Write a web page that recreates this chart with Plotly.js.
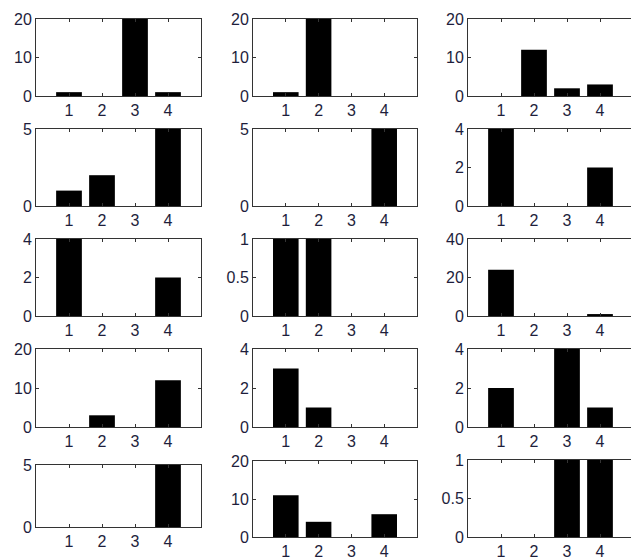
<!DOCTYPE html>
<html>
<head>
<meta charset="utf-8">
<script src="https://cdn.plot.ly/plotly-3.0.1.min.js"></script>
<style>html,body{margin:0;padding:0;background:#fff;}#chart{width:631px;height:557px;}</style>
</head>
<body>
<div id="chart"></div>
<script>
// Categories (x positions) shared by all panels
const categories = [1, 2, 3, 4];
const xTickLabels = ['1', '2', '3', '4'];

// Bar values, panel by panel (row-major, 5 rows x 3 columns)
const r1c1 = [1, 0, 20, 1];
const r1c2 = [1, 20, 0, 0];
const r1c3 = [0, 12, 2, 3];
const r2c1 = [1, 2, 0, 5];
const r2c2 = [0, 0, 0, 5];
const r2c3 = [4, 0, 0, 2];
const r3c1 = [4, 0, 0, 2];
const r3c2 = [1, 1, 0, 0];
const r3c3 = [24, 0, 0, 1];
const r4c1 = [0, 3, 0, 12];
const r4c2 = [3, 1, 0, 0];
const r4c3 = [2, 0, 4, 1];
const r5c1 = [0, 0, 0, 5];
const r5c2 = [11, 4, 0, 6];
const r5c3 = [0, 0, 1, 1];

// Y tick values per panel
const yt20 = [0, 10, 20];
const yt5 = [0, 5];
const yt4 = [0, 2, 4];
const yt1 = [0, 0.5, 1];
const yt40 = [0, 20, 40];

const panels = [
  {v: r1c1, yt: yt20}, {v: r1c2, yt: yt20}, {v: r1c3, yt: yt20},
  {v: r2c1, yt: yt5},  {v: r2c2, yt: yt5},  {v: r2c3, yt: yt4},
  {v: r3c1, yt: yt4},  {v: r3c2, yt: yt1},  {v: r3c3, yt: yt40},
  {v: r4c1, yt: yt20}, {v: r4c2, yt: yt4},  {v: r4c3, yt: yt4},
  {v: r5c1, yt: yt5},  {v: r5c2, yt: yt20}, {v: r5c3, yt: yt1}
];

const W = 631, H = 557;
// pixel boxes [left, right] per column, [top, bottom] per row
const colPx = [[36, 201], [253, 417], [468, 633]];
const rowPx = [[19, 96], [129, 206], [239, 316], [349, 427], [460, 537]];
const r5Px = [[465, 527], [461, 537], [460, 537]];

const txtColor = '#1e1e3c';
const lineColor = '#333333';
const data = [];
const layout = {
  width: W, height: H,
  margin: {l: 0, r: 0, t: 0, b: 0},
  paper_bgcolor: '#fff', plot_bgcolor: '#fff',
  showlegend: false,
  font: {family: 'Liberation Sans, Arial, sans-serif', size: 16, color: txtColor}
};

panels.forEach((p, i) => {
  const r = Math.floor(i / 3), c = i % 3;
  const n = i + 1;
  const xa = n === 1 ? 'x' : 'x' + n;
  const ya = n === 1 ? 'y' : 'y' + n;
  data.push({
    type: 'bar', x: categories, y: p.v,
    xaxis: xa, yaxis: ya, width: 0.78,
    marker: {color: '#000', line: {width: 0}},
    hoverinfo: 'skip', cliponaxis: true
  });
  const [l, rr] = colPx[c];
  const [t, b] = r === 4 ? r5Px[c] : rowPx[r];
  const pxPerUnit = (rr - l) / 5;
  const rightVis = Math.min(rr, W);
  const xmax = (rightVis - l) / pxPerUnit;
  const clipped = rr > W;
  const ymax = p.yt[p.yt.length - 1];
  layout['xaxis' + (n === 1 ? '' : n)] = {
    domain: [l / W, rightVis / W],
    anchor: ya,
    range: [0, xmax],
    tickvals: categories, ticktext: xTickLabels,
    ticks: 'inside', ticklen: 3, tickcolor: lineColor,
    showline: true, linecolor: lineColor, linewidth: 1, mirror: 'ticks',
    showgrid: false, zeroline: false, fixedrange: true,
    tickfont: {size: 16, color: txtColor}
  };
  layout['yaxis' + (n === 1 ? '' : n)] = {
    domain: [1 - b / H, 1 - t / H],
    anchor: xa,
    range: [0, ymax],
    tickvals: p.yt,
    ticks: 'inside', ticklen: 3, tickcolor: lineColor,
    showline: true, linecolor: lineColor, linewidth: 1, mirror: clipped ? false : 'ticks',
    showgrid: false, zeroline: false, fixedrange: true,
    tickfont: {size: 16, color: txtColor}
  };
});

Plotly.newPlot('chart', data, layout, {staticPlot: true, displayModeBar: false});
</script>
</body>
</html>
